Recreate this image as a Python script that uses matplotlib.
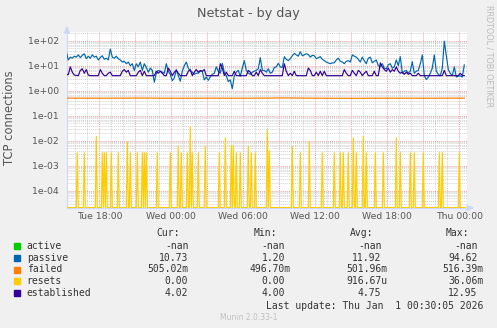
import numpy as np
import matplotlib
matplotlib.use("Agg")
import matplotlib.pyplot as plt
from matplotlib.ticker import (MultipleLocator, LogLocator, FuncFormatter,
                               NullFormatter, FixedLocator)
from matplotlib.patches import Rectangle, Polygon

W, H = 497, 328

# ---------------- data ----------------
# time in hours relative to Wed 00:00
t_start = -8.75          # Tue 15:15
t_step = 1.0 / 6.0       # 10-minute samples for passive / established
reset_step = 1.0 / 12.0  # 5-minute samples for resets

passive = [
    36, 17, 22, 20, 24, 22, 27, 21, 26, 30,
    19, 24, 20, 27, 22, 24, 17, 21, 25, 18,
    20, 17, 46, 22, 20, 24, 19, 17, 14, 15,
    12, 14, 10, 12, 6.5, 12, 9, 14, 6.5, 12,
    8.5, 5.5, 8, 6.5, 2.2, 5, 6.5, 6, 5.5, 5,
    12, 6, 4.5, 2.5, 3.2, 7, 4, 2.4, 6, 10,
    14, 8, 6, 5.5, 4.5, 5, 5, 6, 6, 2.7,
    3.5, 2.6, 3.6, 4.5, 5, 9, 6, 5, 12.5, 5.5,
    4, 2.3, 2.7, 1.2, 4, 5.5, 6.5, 3.8, 8, 16,
    6.5, 5, 4.5, 5.5, 6, 6.5, 7.5, 21, 6.5, 6.5,
    5.5, 7.5, 5, 5.5, 8.5, 9, 12.5, 9, 8.5, 23,
    18, 16, 19, 25, 31, 27, 24, 36, 25, 27,
    30, 28, 22, 26, 25, 19, 21, 23, 18, 16,
    14, 13, 12, 13, 13, 17, 20, 15, 14, 12,
    15, 16, 14, 27, 24, 22, 18, 14, 22, 16,
    12, 20, 22, 13, 15, 17, 10, 9, 12, 8,
    7.5, 11, 12, 8, 9, 17, 10, 23, 5, 6,
    6.5, 5, 6, 14.5, 5, 6, 6.5, 12, 27, 4,
    2.8, 3.5, 5, 8, 27, 6, 4.5, 4, 8, 95,
    25, 7, 5, 4, 9, 3.5, 3.8, 4, 3.5, 10.73,
]

established = [
    4.5, 4.4, 9, 5.5, 4.2, 4.1, 4, 6.5, 7.5, 5,
    7, 4.2, 4, 4, 4, 4, 4, 7, 5, 4,
    4, 5, 5.5, 4, 4, 4, 4, 4, 6, 7,
    5.5, 6.5, 4, 4, 4, 4, 5.5, 6.5, 4, 6,
    4, 4, 4, 4, 4, 6, 5, 6, 5, 4,
    4, 8, 6, 4, 5.5, 6.5, 5, 4, 4, 4,
    4, 6, 7, 4, 5.5, 7, 5.5, 6.5, 6, 7,
    4, 4, 4, 4, 4, 4, 4, 12, 8, 4,
    5.5, 4, 4, 4, 6, 4, 4, 4, 4, 4,
    4, 6.5, 5.5, 4, 4, 5.5, 4, 7, 5, 4,
    4, 4, 4, 4, 4, 4, 4, 4, 4, 12,
    6, 4, 5, 4, 6, 4, 4, 4, 4, 4,
    4, 8, 6.5, 4, 4, 5.5, 4, 6, 4, 6,
    4, 4, 4, 4, 4, 4, 4, 4, 4, 7,
    5, 4, 4, 6.5, 5, 4, 6.5, 5.5, 4, 5,
    6, 4, 4, 4, 6, 4, 4, 12.95, 9, 7,
    6, 8, 5.5, 7, 6, 9, 6, 5, 5.5, 4.5,
    5.5, 4.5, 5, 4, 4, 4, 5, 4, 4, 4,
    4, 4, 4, 4, 4, 4, 4, 4, 4, 6.5,
    4, 4, 4, 4, 4, 4, 4, 5, 4, 4.02,
]

# failed connections (coarse, evenly spread over the period)
failed = [0.505, 0.500, 0.510, 0.498, 0.503, 0.500, 0.516, 0.500,
          0.497, 0.502, 0.500, 0.505]

# resets: non-zero 5-minute slots and their values (all other slots are 0)
reset_slot = [11, 18, 30, 36, 38, 40, 45, 52, 61, 64, 71, 76, 78, 80, 91,
              104, 112, 115, 121, 124, 126, 132, 139, 153, 159, 165, 167,
              170, 174, 182, 185, 189, 201, 203, 226, 234, 243, 256, 268,
              274, 277, 282, 287, 290, 297, 300, 309, 317, 330, 334, 344,
              348, 357, 373, 376, 393]
reset_value = [3.3e-3, 3.3e-3, 1.5e-2, 3.3e-3, 3.3e-3, 3.3e-3, 3.3e-3, 3.3e-3,
               9e-3, 3.3e-3, 3.3e-3, 3.3e-3, 3.3e-3, 3.3e-3, 3.3e-3,
               3.3e-3, 6e-3, 3.3e-3, 3.3e-3, 3.6e-2, 3.3e-3, 3.3e-3, 6e-3,
               3.3e-3, 1.3e-2, 6.5e-3, 6.5e-3, 3.3e-3, 3.3e-3, 6e-3, 3.3e-3,
               3.3e-3, 2.7e-2, 4e-3, 6e-3, 3.3e-3, 9e-3, 3.3e-3, 3.3e-3,
               3.3e-3, 3.3e-3, 3.3e-3, 1.3e-2, 3.3e-3, 1.5e-2, 3.3e-3, 3.3e-3,
               3.3e-3, 1.3e-2, 3.3e-3, 3.3e-3, 3.3e-3, 3.3e-3, 3.3e-3, 3.3e-3,
               3.3e-3]
reset_slots_total = 400

tick_hours = [-6, 0, 6, 12, 18, 24]
tick_labels = ["Tue 18:00", "Wed 00:00", "Wed 06:00", "Wed 12:00",
               "Wed 18:00", "Thu 00:00"]

legend_names = ["active", "passive", "failed", "resets", "established"]
legend_colors = ["#00CC00", "#0066B3", "#FF8000", "#FFCC00", "#330099"]
cur_vals = ["-nan", "10.73", "505.02m", "0.00", "4.02"]
min_vals = ["-nan", "1.20", "496.70m", "0.00", "4.00"]
avg_vals = ["-nan", "11.92", "501.96m", "916.67u", "4.75"]
max_vals = ["-nan", "94.62", "516.39m", "36.06m", "12.95"]

# ---------------- figure ----------------
fig = plt.figure(figsize=(W / 100, H / 100), dpi=100, facecolor="#F0F0F0")

def fx(px):
    return px / W

def fy(py):
    return 1 - py / H

L, R, T, B = 67, 467, 32, 208
ax = fig.add_axes([fx(L), fy(B), (R - L) / W, (B - T) / H], facecolor="white")

zero_px = 171.3
px_per_h = 12.0
xmin = (L - zero_px) / px_per_h
xmax = (R - zero_px) / px_per_h
y_ref_px, px_per_dec = 90.7, 25.0
ymax = 10 ** ((y_ref_px - T) / px_per_dec)
ymin = 10 ** ((y_ref_px - B) / px_per_dec)

ax.set_yscale("log")
ax.set_xlim(xmin, xmax)
ax.set_ylim(ymin, ymax)

n = len(passive)
t = t_start + t_step * np.arange(n)
tf = np.linspace(t[0], t[-1], len(failed))
tr = t_start + reset_step * np.arange(reset_slots_total)
resets = np.zeros(reset_slots_total)
resets[reset_slot] = reset_value
resets_plot = np.where(resets > 0, resets, ymin * 1.04)

lw = 0.85
ax.plot(t, passive, color="#0066B3", lw=lw, zorder=3)
ax.plot(tf, failed, color="#FF8000", lw=lw, zorder=3)
ax.plot(tr, resets_plot, color="#FFCC00", lw=lw, zorder=3)
ax.plot(t, established, color="#330099", lw=lw, zorder=4)

# grid / ticks
ax.yaxis.set_major_locator(LogLocator(base=10, numticks=30))
ax.yaxis.set_minor_locator(LogLocator(base=10, subs=np.arange(2, 10), numticks=30))
ax.yaxis.set_major_formatter(FuncFormatter(lambda v, p: f"{v:.0e}"))
ax.yaxis.set_minor_formatter(NullFormatter())

major_x = np.arange(-6, 25.1, 3)
ax.xaxis.set_major_locator(FixedLocator(major_x))
lab_map = dict(zip(tick_hours, tick_labels))
ax.xaxis.set_major_formatter(FuncFormatter(lambda v, p: lab_map.get(int(round(v)), "")))
ax.xaxis.set_minor_locator(MultipleLocator(1))

dots = (0, (1, 1))
ax.grid(which="major", color="#E9A3A3", linestyle=dots, lw=0.7, zorder=1)
ax.grid(which="minor", color="#D2D2D2", linestyle=dots, lw=0.7, zorder=1)
ax.set_axisbelow(True)

ax.tick_params(axis="both", which="both", length=0, labelsize=6.7,
               labelcolor="#555555")
ax.tick_params(axis="y", pad=6)
ax.tick_params(axis="x", pad=3)

for s in ("top", "right"):
    ax.spines[s].set_visible(False)
for s in ("left", "bottom"):
    ax.spines[s].set_color("#CFD6F8")
    ax.spines[s].set_linewidth(0.8)

# arrows
arrow_col = "#CFD6F8"
fig.add_artist(Polygon([(fx(64.5), fy(33)), (fx(69.5), fy(33)), (fx(67), fy(27))],
                       closed=True, color=arrow_col, transform=fig.transFigure))
fig.add_artist(Polygon([(fx(467), fy(205.5)), (fx(467), fy(210.5)), (fx(473), fy(208))],
                       closed=True, color=arrow_col, transform=fig.transFigure))

# texts
fig.text(fx(248.5), fy(13), "Netstat - by day", ha="center", va="center",
         fontsize=9.2, color="#555555")
fig.text(fx(10), fy(118), "TCP connections", rotation=90, ha="center",
         va="center", fontsize=8.3, color="#555555")
fig.text(fx(488.5), fy(56), "RRDTOOL / TOBI OETIKER", rotation=270,
         ha="center", va="center", fontsize=5.8, color="#BBBBBB")
fig.text(fx(248.3), fy(317.3), "Munin 2.0.33-1", ha="center", va="center",
         fontsize=5.5, color="#C0C0C0")

mono = "DejaVu Sans Mono"
fs = 7.0
tc = "#333333"
char_w = 5.9
head_y = 233.3
for name, xr in (("Cur:", 180), ("Min:", 277), ("Avg:", 373), ("Max:", 469)):
    fig.text(fx(xr), fy(head_y), name, ha="right", va="center",
             family=mono, fontsize=fs, color=tc)

row_y = [245.7, 257.7, 269.5, 281.4, 293.3]

def right_edge(s, col):
    return col if s[-1].isalpha() and s != "-nan" else col - char_w

for k, name in enumerate(legend_names):
    y = row_y[k]
    fig.add_artist(Rectangle((fx(14), fy(y + 3)), 6 / W, 6 / H,
                             color=legend_colors[k], transform=fig.transFigure))
    fig.text(fx(26.7), fy(y), name, ha="left", va="center",
             family=mono, fontsize=fs, color=tc)
    fig.text(fx(188.3), fy(y), cur_vals[k], ha="right", va="center",
             family=mono, fontsize=fs, color=tc)
    for vals, col in ((min_vals, 291), (avg_vals, 387.3), (max_vals, 483.3)):
        s = vals[k]
        fig.text(fx(right_edge(s, col)), fy(y), s, ha="right", va="center",
                 family=mono, fontsize=fs, color=tc)

fig.text(fx(483.3), fy(306), "Last update: Thu Jan  1 00:30:05 2026",
         ha="right", va="center", family=mono, fontsize=fs, color=tc)

fig.savefig("out.png", dpi=100, facecolor=fig.get_facecolor())
